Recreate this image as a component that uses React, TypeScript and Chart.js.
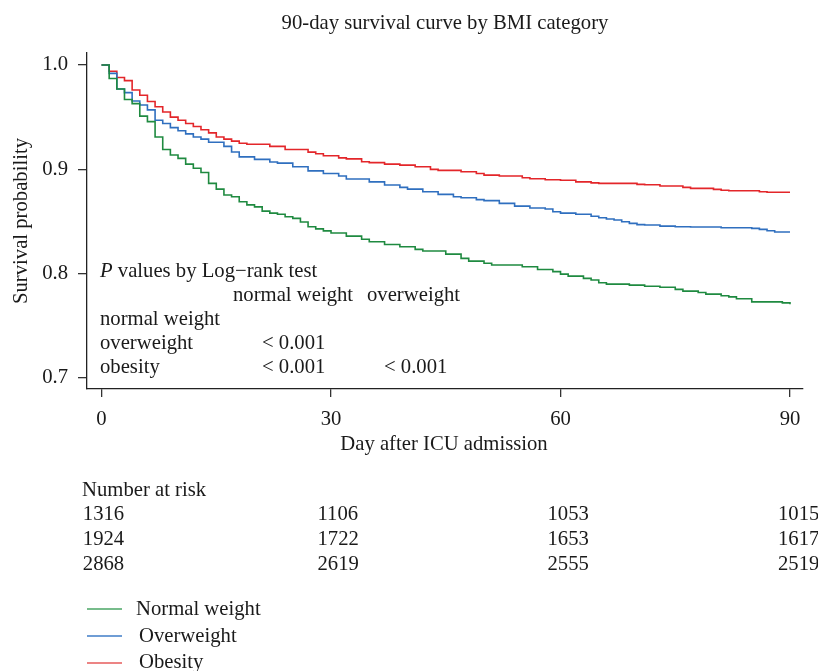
import React, { useEffect, useRef } from "react";
import { Chart, registerables } from "chart.js";

Chart.register(...registerables);

const FONT = "'Liberation Serif', 'Times New Roman', serif";
const FS = 20.7;
const TEXT = "#1a1a1a";

// ---- data ----
const titleText = "90-day survival curve by BMI category";
const xTitle = "Day after ICU admission";
const yTitle = "Survival probability";

const xTickValues = [0, 30, 60, 90];
const yTickValues = [0.7, 0.8, 0.9, 1.0];

const seriesNames = ["Normal weight", "Overweight", "Obesity"];

const normalDays = [0, 1, 2, 3, 4, 5, 6, 7, 8, 9, 10, 11, 12, 13, 14, 15, 16, 17, 18, 19, 20, 21, 22, 23, 24, 25, 26, 27, 28, 29, 30, 32, 34, 35, 37, 39, 41, 42, 45, 47, 48, 50, 51, 55, 57, 59, 60, 61, 63, 64, 65, 66, 69, 71, 73, 75, 76, 78, 79, 81, 82, 83, 85, 89, 90];
const normalSurv = [1.0, 0.987, 0.977, 0.967, 0.963, 0.951, 0.9457, 0.931, 0.919, 0.9137, 0.9105, 0.905, 0.901, 0.897, 0.8866, 0.881, 0.8754, 0.8737, 0.869, 0.866, 0.864, 0.86, 0.858, 0.857, 0.8546, 0.853, 0.8495, 0.845, 0.843, 0.841, 0.839, 0.836, 0.833, 0.8306, 0.828, 0.8258, 0.8233, 0.8217, 0.8188, 0.8147, 0.812, 0.81, 0.8083, 0.8066, 0.804, 0.802, 0.7996, 0.7977, 0.7955, 0.7939, 0.7913, 0.79, 0.789, 0.788, 0.787, 0.785, 0.7833, 0.782, 0.7804, 0.7788, 0.7778, 0.776, 0.773, 0.772, 0.7708];

const overDays = [0, 1, 2, 3, 4, 5, 6, 7, 8, 9, 10, 11, 12, 13, 14, 16, 17, 18, 20, 22, 23, 25, 27, 29, 31, 32, 35, 37, 39, 40, 42, 44, 46, 47, 49, 50, 52, 54, 56, 58, 59, 60, 62, 64, 65, 66, 67, 68, 69, 70, 71, 73, 75, 77, 81, 85, 86, 87, 88, 90];
const overSurv = [1.0, 0.992, 0.977, 0.9735, 0.9655, 0.9616, 0.957, 0.947, 0.944, 0.94, 0.937, 0.934, 0.931, 0.929, 0.926, 0.922, 0.9166, 0.912, 0.9096, 0.907, 0.906, 0.9025, 0.8985, 0.896, 0.8936, 0.8907, 0.888, 0.885, 0.8827, 0.881, 0.8785, 0.876, 0.8737, 0.8728, 0.871, 0.87, 0.8674, 0.8648, 0.863, 0.862, 0.8594, 0.858, 0.857, 0.855, 0.8536, 0.8524, 0.8514, 0.8498, 0.8482, 0.847, 0.8466, 0.8456, 0.845, 0.8447, 0.844, 0.8434, 0.8425, 0.8411, 0.84, 0.84];

const obeseDays = [0, 1, 2, 3, 4, 5, 6, 7, 8, 9, 10, 11, 12, 13, 14, 15, 16, 17, 18, 19, 22, 24, 27, 28, 29, 31, 32, 34, 35, 37, 39, 41, 43, 44, 47, 49, 50, 52, 55, 56, 58, 60, 62, 64, 65, 70, 71, 73, 76, 77, 80, 81, 82, 86, 87, 90];
const obeseSurv = [1.0, 0.994, 0.988, 0.985, 0.976, 0.971, 0.965, 0.96, 0.955, 0.95, 0.947, 0.944, 0.941, 0.938, 0.935, 0.931, 0.929, 0.927, 0.925, 0.924, 0.922, 0.919, 0.9165, 0.915, 0.913, 0.911, 0.91, 0.9073, 0.9064, 0.905, 0.904, 0.9025, 0.9, 0.899, 0.8977, 0.896, 0.8945, 0.8936, 0.892, 0.891, 0.89, 0.8895, 0.888, 0.887, 0.8866, 0.8856, 0.8852, 0.884, 0.8827, 0.8818, 0.8808, 0.88, 0.8795, 0.8785, 0.878, 0.878];

const riskDays = [0, 30, 60, 90];
const riskNormal = [1316, 1106, 1053, 1015];
const riskOver = [1924, 1722, 1653, 1617];
const riskObese = [2868, 2619, 2555, 2519];

const pTitle = " values by Log\u2212rank test";
const pColHeaders = ["normal weight", "overweight"];
const pRowLabels = ["normal weight", "overweight", "obesity"];
const pValues = [[], ["< 0.001"], ["< 0.001", "< 0.001"]];

// ---- styles ----
const lineColors = ["#1f8a40", "#2f6fbf", "#e3262a"];
const legendColors = ["#4aa664", "#3f7cc7", "#e65b5b"];

const toPoints = (days: number[], vals: number[]) =>
  days.map((d, i) => ({ x: d, y: vals[i] }));

const textPlugin = {
  id: "kmText",
  afterDraw(chart: any) {
    const ctx = chart.ctx as CanvasRenderingContext2D;
    const area = chart.chartArea;
    const xs = chart.scales.x;
    ctx.save();
    ctx.fillStyle = TEXT;
    const f = `${FS}px ${FONT}`;
    ctx.font = f;
    ctx.textBaseline = "alphabetic";

    // title
    ctx.textAlign = "center";
    ctx.fillText(titleText, (area.left + area.right) / 2, 29);

    // x title
    ctx.fillText(xTitle, (area.left + area.right) / 2 - 1, 450);

    // y title
    ctx.save();
    ctx.translate(22, (area.top + area.bottom) / 2);
    ctx.rotate(-Math.PI / 2);
    ctx.textBaseline = "middle";
    ctx.fillText(yTitle, 0, 0);
    ctx.restore();

    // P-value table
    ctx.textAlign = "left";
    const px0 = 100;
    ctx.font = `italic ${FS}px ${FONT}`;
    ctx.fillText("P", px0, 277);
    const pw = ctx.measureText("P").width;
    ctx.font = f;
    ctx.fillText(pTitle, px0 + pw, 277);
    const colX = [233, 367];
    const valX = [262, 384];
    ctx.fillText(pColHeaders[0], colX[0], 301);
    ctx.fillText(pColHeaders[1], colX[1], 301);
    const rowY = [324.5, 348.5, 372.7];
    pRowLabels.forEach((lab, r) => {
      ctx.fillText(lab, px0, rowY[r]);
      pValues[r].forEach((v, c) => ctx.fillText(v, valX[c], rowY[r]));
    });

    // number at risk
    ctx.fillText("Number at risk", 82, 496);
    const riskOffsets = [-18.7, -13.5, -13, -12];
    const rows = [riskNormal, riskOver, riskObese];
    const rY = [520, 545, 570];
    rows.forEach((row, r) => {
      row.forEach((n, c) => {
        const x = xs.getPixelForValue(riskDays[c]) + riskOffsets[c];
        ctx.fillText(String(n), x, rY[r]);
      });
    });

    // legend
    const legLineY = [609, 636, 663];
    const legTextY = [615, 641.5, 667.5];
    seriesNames.forEach((name, i) => {
      ctx.strokeStyle = legendColors[i];
      ctx.lineWidth = 1.5;
      ctx.beginPath();
      ctx.moveTo(87, legLineY[i]);
      ctx.lineTo(122, legLineY[i]);
      ctx.stroke();
      ctx.fillText(name, i === 0 ? 136 : 139, legTextY[i]);
    });

    ctx.restore();
  },
};

export default function App() {
  const ref = useRef<HTMLCanvasElement | null>(null);

  useEffect(() => {
    if (!ref.current) return;
    const series = [
      toPoints(normalDays, normalSurv),
      toPoints(overDays, overSurv),
      toPoints(obeseDays, obeseSurv),
    ];
    const chart = new Chart(ref.current, {
      type: "line",
      data: {
        datasets: series.map((pts, i) => ({
          label: seriesNames[i],
          data: pts,
          borderColor: lineColors[i],
          backgroundColor: lineColors[i],
          borderWidth: 1.6,
          pointRadius: 0,
          stepped: true,
          fill: false,
        })),
      },
      options: {
        animation: false,
        responsive: false,
        layout: { padding: { left: 0, top: 53, right: 15, bottom: 0 } },
        plugins: {
          legend: { display: false },
          title: { display: false },
          tooltip: { enabled: false },
        },
        scales: {
          x: {
            type: "linear",
            min: -1.9,
            max: 91.7,
            afterBuildTicks: (s: any) => {
              s.ticks = xTickValues.map((v) => ({ value: v }));
            },
            afterFit: (s: any) => {
              s.height = 671 - 389;
            },
            ticks: {
              autoSkip: false,
              maxRotation: 0,
              padding: 10,
              color: TEXT,
              font: { family: FONT, size: FS },
              callback: (v: any) => String(v),
            },
            grid: {
              drawOnChartArea: false,
              drawTicks: true,
              tickLength: 8,
              color: "#333",
              lineWidth: 1.3,
            },
            border: { display: true, color: "#222", width: 1.3 },
          },
          y: {
            type: "linear",
            min: 0.6895,
            max: 1.0115,
            afterBuildTicks: (s: any) => {
              s.ticks = yTickValues.map((v) => ({ value: v }));
            },
            afterFit: (s: any) => {
              s.width = 87;
            },
            ticks: {
              autoSkip: false,
              padding: 10,
              color: TEXT,
              font: { family: FONT, size: FS },
              callback: (v: any) => Number(v).toFixed(1),
            },
            grid: {
              drawOnChartArea: false,
              drawTicks: true,
              tickLength: 9,
              color: "#333",
              lineWidth: 1.3,
            },
            border: { display: true, color: "#222", width: 1.3 },
          },
        },
      },
      plugins: [textPlugin],
    });
    return () => chart.destroy();
  }, []);

  return (
    <div style={{ position: "absolute", left: 0, top: 0, width: 818, height: 671, background: "#fff" }}>
      <canvas ref={ref} width={818} height={671} style={{ display: "block" }} />
    </div>
  );
}
